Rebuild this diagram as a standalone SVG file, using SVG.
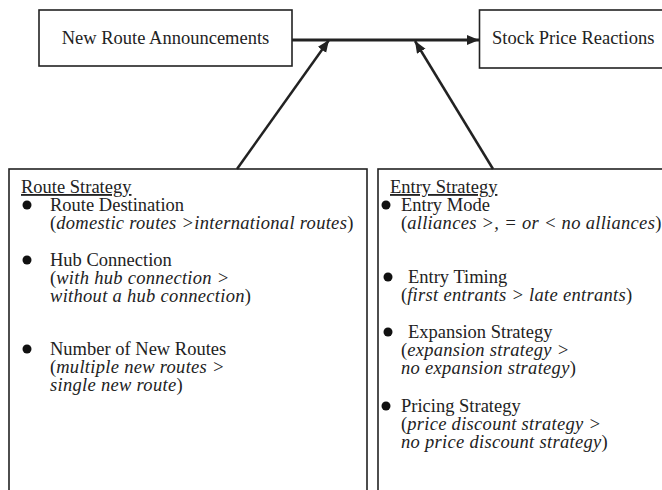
<svg xmlns="http://www.w3.org/2000/svg" width="662" height="490" viewBox="0 0 662 490">
<style>
  .box { fill: #fff; stroke: #222; stroke-width: 1.6; }
  .t { font-family: "Liberation Serif", "Times New Roman", serif; font-size: 18.5px; fill: #222; }
  .i { font-style: italic; letter-spacing: 0.3px; }
  .u { text-decoration: underline; }
  .conn { stroke: #222; fill: none; }
  .dot { fill: #111; }
</style>
<defs>
  <marker id="ah" markerUnits="userSpaceOnUse" markerWidth="14" markerHeight="12" refX="12" refY="5" orient="auto">
    <path d="M0,0 L12,5 L0,10 Z" fill="#222"/>
  </marker>
</defs>
<rect width="662" height="490" fill="#fff"/>

<g id="new-route-announcements">
  <rect class="box" x="39" y="10" width="253" height="56"/>
  <text class="t" x="165.5" y="44" text-anchor="middle">New Route Announcements</text>
</g>

<g id="stock-price-reactions">
  <rect class="box" x="479.5" y="10" width="200" height="58"/>
  <text class="t" x="492" y="44">Stock Price Reactions</text>
</g>

<g id="route-strategy">
  <rect class="box" x="9" y="169" width="358" height="340"/>
  <text class="t u" x="21" y="193">Route Strategy</text>
  <circle class="dot" cx="27" cy="205" r="4.5"/>
  <text class="t" x="50" y="211">Route Destination</text>
  <text class="t" x="50" y="229">(<tspan class="i">domestic routes &gt;international routes</tspan>)</text>
  <circle class="dot" cx="27" cy="260" r="4.5"/>
  <text class="t" x="50" y="266">Hub Connection</text>
  <text class="t" x="50" y="284">(<tspan class="i">with hub connection &gt;</tspan></text>
  <text class="t i" x="50" y="302">without a hub connection<tspan font-style="normal">)</tspan></text>
  <circle class="dot" cx="27" cy="349" r="4.5"/>
  <text class="t" x="50" y="355">Number of New Routes</text>
  <text class="t" x="50" y="373">(<tspan class="i">multiple new routes &gt;</tspan></text>
  <text class="t i" x="50" y="391">single new route<tspan font-style="normal">)</tspan></text>
</g>

<g id="entry-strategy">
  <rect class="box" x="378" y="169" width="300" height="340"/>
  <text class="t u" x="390" y="193">Entry Strategy</text>
  <circle class="dot" cx="386" cy="205" r="4.5"/>
  <text class="t" x="401" y="211">Entry Mode</text>
  <text class="t" x="401" y="229">(<tspan class="i">alliances &gt;, = or &lt; no alliances</tspan>)</text>
  <circle class="dot" cx="388" cy="277" r="4.5"/>
  <text class="t" x="408" y="283">Entry Timing</text>
  <text class="t" x="401" y="301">(<tspan class="i">first entrants &gt; late entrants</tspan>)</text>
  <circle class="dot" cx="388" cy="332" r="4.5"/>
  <text class="t" x="408" y="338">Expansion Strategy</text>
  <text class="t" x="401" y="356">(<tspan class="i">expansion strategy &gt;</tspan></text>
  <text class="t i" x="401" y="374">no expansion strategy<tspan font-style="normal">)</tspan></text>
  <circle class="dot" cx="386" cy="406" r="4.5"/>
  <text class="t" x="401" y="412">Pricing Strategy</text>
  <text class="t" x="401" y="430">(<tspan class="i">price discount strategy &gt;</tspan></text>
  <text class="t i" x="401" y="448">no price discount strategy<tspan font-style="normal">)</tspan></text>
</g>

<g id="connectors">
  <line class="conn" x1="292" y1="40" x2="479" y2="40" stroke-width="3" marker-end="url(#ah)"/>
  <line class="conn" x1="237" y1="169" x2="329" y2="40" stroke-width="2.5" marker-end="url(#ah)"/>
  <line class="conn" x1="493" y1="169" x2="415" y2="41" stroke-width="2.5" marker-end="url(#ah)"/>
</g>
</svg>
